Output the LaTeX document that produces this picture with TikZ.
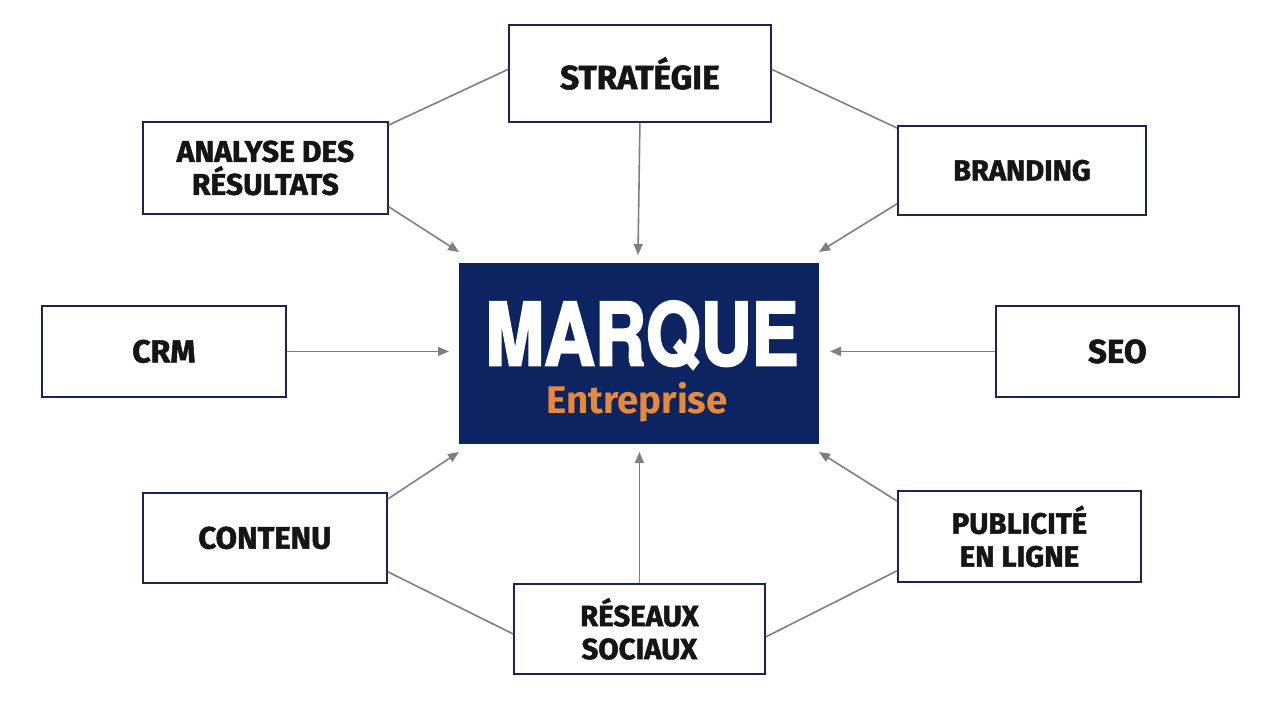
\documentclass[tikz,border=0pt]{standalone}
\usepackage{fontspec}
\setmainfont{Fira Sans}
\newfontfamily\boxfont{Fira Sans}[BoldFeatures={FakeBold=1.6}]
\newfontfamily\bigfont{TeX Gyre Heros}[FakeStretch=0.81,BoldFeatures={FakeBold=2.4}]
\usetikzlibrary{arrows.meta,calc}
\definecolor{navy}{HTML}{0C2461}
\definecolor{boxline}{HTML}{1C2550}
\definecolor{conn}{HTML}{7F7F7F}
\definecolor{orangec}{HTML}{E8893A}
\definecolor{txt}{HTML}{151515}
\newcommand{\fs}[1]{\fontsize{#1}{33}\selectfont}
\tikzset{
  sat/.style={draw=boxline, line width=1.8pt, fill=white, inner sep=0pt, anchor=north west,
    text=txt, font=\boxfont\bfseries\fs{29}, align=center},
  link/.style={draw=conn, line width=1.6pt},
  arr/.style={link, -{Triangle[length=11pt,width=9pt]}},
}
\begin{document}
\begin{tikzpicture}[x=1pt,y=-1pt]
\useasboundingbox (0,0) rectangle (1280,720);
% boxes
\node[sat, minimum width=262pt, minimum height=97pt, font=\boxfont\bfseries\fs{33.5}] (strat) at (508,24) {STRATÉGIE};
\node[sat, minimum width=245pt, minimum height=92pt, font=\boxfont\bfseries\fs{30}] (anal) at (142,121) {ANALYSE DES\\RÉSULTATS};
\node[sat, minimum width=248pt, minimum height=89pt] (brand) at (897,125) {BRANDING};
\node[sat, minimum width=244pt, minimum height=91pt, font=\boxfont\bfseries\fs{32}] (crm) at (41,305) {CRM};
\node[sat, minimum width=243pt, minimum height=91pt, font=\boxfont\bfseries\fs{33}] (seo) at (995,305) {SEO};
\node[sat, minimum width=244pt, minimum height=90pt, font=\boxfont\bfseries\fs{31}] (cont) at (142,492) {CONTENU};
\node[sat, minimum width=243pt, minimum height=91pt, font=\boxfont\bfseries\fs{29.4}] (pub) at (897,490) {PUBLICITÉ\\EN LIGNE};
\node[sat, minimum width=251pt, minimum height=90pt, font=\boxfont\bfseries\fs{29.4}] (res) at (513,583) {RÉSEAUX\\SOCIAUX};
% center
\node[fill=navy, draw=none, minimum width=360pt, minimum height=181pt, anchor=north west, inner sep=0pt] (marque) at (459,263) {};
\node[text=white, font=\bigfont\bfseries\fontsize{87}{90}\selectfont, inner sep=0pt] (mt) at (642,335) {MARQUE};
\node[text=orangec, font=\bfseries\fontsize{38.5}{40}\selectfont, inner sep=0pt] (et) at (637,402) {Entreprise};
% target coordinates
\coordinate (tS) at (638,255);
\coordinate (tA) at (459,252);
\coordinate (tB) at (819,252);
\coordinate (tC) at (449,349);
\coordinate (tSe) at (830,349);
\coordinate (tCo) at (459,452);
\coordinate (tP) at (819,452);
\coordinate (tR) at (638,452);
% arrows
\draw[arr] (strat.south) -- (tS);
\draw[arr] ($(anal.south east)+(0,-8)$) -- (tA);
\draw[arr] ($(brand.south west)+(0,-12)$) -- (tB);
\draw[arr] (crm.east) -- (crm.east -| tC);
\draw[arr] (seo.west) -- (seo.west -| tSe);
\draw[arr] ($(cont.north east)+(0,7)$) -- (tCo);
\draw[arr] ($(pub.north west)+(0,11)$) -- (tP);
\draw[arr] (res.north) -- (res.north |- tR);
% plain links
\draw[link] ($(strat.west)+(0,-4)$) -- ($(anal.north east)+(0,4)$);
\draw[link] ($(strat.east)+(0,-4)$) -- ($(brand.north west)+(0,3)$);
\draw[link] ($(cont.south east)+(0,-12)$) -- ($(res.west)+(0,5)$);
\draw[link] ($(res.east)+(0,8)$) -- ($(pub.south west)+(0,-12)$);
\end{tikzpicture}
\end{document}
